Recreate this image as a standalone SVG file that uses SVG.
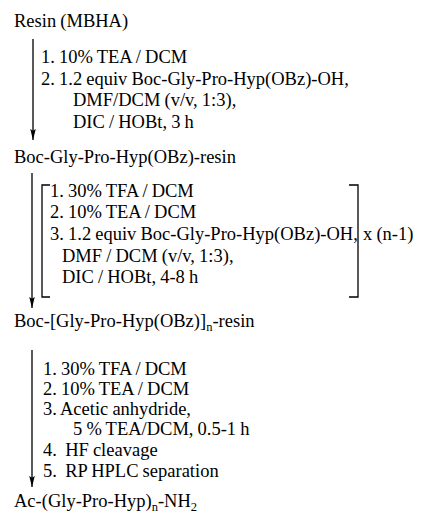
<svg xmlns="http://www.w3.org/2000/svg" width="432" height="519" viewBox="0 0 432 519">
  <style>
    text { font-family: "Liberation Serif", "Times New Roman", serif; font-size: 18.5px; fill: #000; word-spacing: -0.5px; }
    .sub { font-size: 12.5px; }
    .conn { stroke: #000; stroke-width: 1.3; fill: none; }
    .brk { stroke: #000; stroke-width: 1.3; fill: none; }
  </style>
  <defs>
    <marker id="head" viewBox="0 0 20 10" refX="20" refY="5" markerWidth="11" markerHeight="5.5" markerUnits="userSpaceOnUse" orient="auto">
      <path d="M0,0 L20,5 L0,10 L3,5 Z" fill="#000"/>
    </marker>
  </defs>

  <rect width="432" height="519" fill="#fff"/>

  <!-- compounds -->
  <g id="resin">
    <text x="14" y="27">Resin (MBHA)</text>
  </g>
  <g id="tripeptide-resin">
    <text x="14" y="163">Boc-Gly-Pro-Hyp(OBz)-resin</text>
  </g>
  <g id="polymer-resin">
    <text x="14" y="327">Boc-[Gly-Pro-Hyp(OBz)]<tspan class="sub" dy="4">n</tspan><tspan dy="-4">-resin</tspan></text>
  </g>
  <g id="product">
    <text x="14" y="507">Ac-(Gly-Pro-Hyp)<tspan class="sub" dy="4">n</tspan><tspan dy="-4">-NH</tspan><tspan class="sub" dy="4">2</tspan></text>
  </g>

  <!-- reaction arrows -->
  <g id="connectors">
    <line class="conn" x1="33" y1="39" x2="33" y2="140" marker-end="url(#head)"/>
    <line class="conn" x1="32" y1="173" x2="32" y2="308" marker-end="url(#head)"/>
    <line class="conn" x1="32" y1="350" x2="32" y2="487" marker-end="url(#head)"/>
  </g>

  <!-- step 1 conditions -->
  <g id="conditions-1">
    <text x="41" y="63">1. 10% TEA / DCM</text>
    <text x="41" y="85">2. 1.2 equiv Boc-Gly-Pro-Hyp(OBz)-OH,</text>
    <text x="73" y="106">DMF/DCM (v/v, 1:3),</text>
    <text x="73" y="128">DIC / HOBt, 3 h</text>
  </g>

  <!-- repeated coupling cycle -->
  <g id="conditions-2">
    <path class="brk" d="M50,185 H42 V297 H50"/>
    <path class="brk" d="M349,185 H358 V297 H349"/>
    <text x="50" y="197">1. 30% TFA / DCM</text>
    <text x="50" y="218">2. 10% TEA / DCM</text>
    <text x="50" y="240">3. 1.2 equiv Boc-Gly-Pro-Hyp(OBz)-OH,</text>
    <text x="62" y="262">DMF / DCM (v/v, 1:3),</text>
    <text x="62" y="283">DIC / HOBt, 4-8 h</text>
    <text x="363" y="240">x (n-1)</text>
  </g>

  <!-- capping, cleavage and purification -->
  <g id="conditions-3">
    <text x="43" y="375">1. 30% TFA / DCM</text>
    <text x="43" y="395">2. 10% TEA / DCM</text>
    <text x="43" y="415">3. Acetic anhydride,</text>
    <text x="73" y="435">5 % TEA/DCM, 0.5-1 h</text>
    <text x="43" y="456" xml:space="preserve">4.  HF cleavage</text>
    <text x="43" y="477" xml:space="preserve">5.  RP HPLC separation</text>
  </g>
</svg>
